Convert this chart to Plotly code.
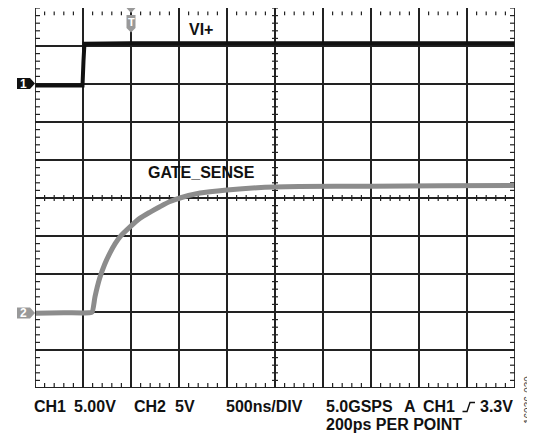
import plotly.graph_objects as go

# ---- data (screen divisions: x 0..10, y 0..10) ----
ch1_t = [0.0, 0.5, 0.99, 1.01, 1.03, 2.0, 4.0, 6.0, 8.0, 10.0]
ch1_v = [7.96, 7.97, 7.96, 8.6, 9.06, 9.07, 9.07, 9.06, 9.07, 9.07]

ch2_t = [0.0, 0.6, 1.13, 1.19, 1.25, 1.35, 1.45, 1.56, 1.67, 1.77, 1.98, 2.19,
         2.4, 2.6, 2.8, 3.02, 3.44, 4.0, 4.63, 5.5, 7.0, 8.5, 10.0]
ch2_v = [1.97, 1.98, 1.98, 2.0, 2.4, 2.9, 3.25, 3.55, 3.8, 3.98, 4.24, 4.47,
         4.63, 4.77, 4.9, 5.0, 5.13, 5.21, 5.27, 5.3, 5.31, 5.32, 5.33]

bottom_labels = [("CH1", 35), ("5.00V", 75), ("CH2", 135), ("5V", 176),
                 ("500ns/DIV", 227), ("5.0GSPS", 327), ("A", 405), ("CH1", 424),
                 ("3.3V", 481)]
second_line = "200ps PER POINT"

# The page body has an 8px margin, so the figure is drawn 8px smaller and
# all window-pixel positions are shifted by OFF.
OFF = 8
W, H = 535 - OFF, 434 - OFF
PL, PT, PR, PB = 35, 8, 515, 388          # plot area in window pixels
L, T = PL - OFF, PT - OFF
R, B = W - (PR - OFF), H - (PB - OFF)
PW, PH = PR - PL, PB - PT


def px(x):
    return (x - PL) / PW


def py(y):
    return (PB - y) / PH


FONT = "Liberation Sans, Arial, sans-serif"
GRAY = "#8c8c8c"

fig = go.Figure()

# tick marks built as line segments
tx, ty = [], []
dx = 5 / PW * 10   # 5px in x-div
dy = 5 / PH * 10   # 5px in y-div
for i in range(51):
    x = i * 0.2
    tx += [x, x, None]; ty += [0, dy, None]
    tx += [x, x, None]; ty += [10 - 0.09, 10 - 0.19, None]
    tx += [x, x, None]; ty += [5 - 0.6 * dy, 5 + 0.6 * dy, None]
    y = i * 0.2
    tx += [0, dx, None]; ty += [y, y, None]
    tx += [10, 10 - dx, None]; ty += [y, y, None]
    tx += [5 - 0.6 * dx, 5 + 0.6 * dx, None]; ty += [y, y, None]
fig.add_trace(go.Scatter(x=tx, y=ty, mode="lines", line=dict(color="#222", width=1.2),
                         hoverinfo="skip"))

fig.add_trace(go.Scatter(x=ch2_t, y=ch2_v, mode="lines",
                         line=dict(color=GRAY, width=5, shape="spline", smoothing=0.6)))
fig.add_trace(go.Scatter(x=ch1_t, y=ch1_v, mode="lines",
                         line=dict(color="#111", width=4)))

shapes = []
for (x0, y0, x1, y1) in [(0, 0, 0, 10), (10, 0, 10, 10), (0, 0, 10, 0)]:
    shapes.append(dict(type="line", xref="x", yref="y", x0=x0, y0=y0, x1=x1, y1=y1,
                       line=dict(color="#222", width=1.8)))


def pts_str(pts):
    return "M " + " L ".join(f"{px(a):.5f},{py(b):.5f}" for a, b in pts)


shapes.append(dict(type="path", xref="paper", yref="paper",
                   path=pts_str([(17, 78), (30, 78), (35, 83.5), (30, 89), (17, 89)]) + " Z",
                   fillcolor="#111", line=dict(width=0)))
shapes.append(dict(type="path", xref="paper", yref="paper",
                   path=pts_str([(17, 307.5), (30, 307.5), (35, 313), (30, 318.5), (17, 318.5)]) + " Z",
                   fillcolor="#999", line=dict(width=0)))
shapes.append(dict(type="path", xref="paper", yref="paper",
                   path=pts_str([(126.5, 8), (135.5, 8), (131, 13)]) + " Z",
                   fillcolor="#999", line=dict(width=0)))
shapes.append(dict(type="path", xref="paper", yref="paper",
                   path=pts_str([(126.5, 15), (135.5, 15), (135.5, 28), (131, 32.5), (126.5, 28)]) + " Z",
                   fillcolor="#999", line=dict(width=0)))
shapes.append(dict(type="path", xref="paper", yref="paper",
                   path=pts_str([(462.5, 411.5), (467, 411.5), (470, 402.5), (475, 402.5)]),
                   line=dict(color="#111", width=1.4)))

ann = []


def add_text(text, x, y, size=16, bold=True, color="#111", xanchor="left", angle=0):
    ann.append(dict(text=f"<b>{text}</b>" if bold else text, xref="paper", yref="paper",
                    x=px(x), y=py(y), xanchor=xanchor, yanchor="middle", showarrow=False,
                    font=dict(family=FONT, size=size, color=color), textangle=angle,
                    borderpad=0, borderwidth=0))


add_text("VI+", 201, 30, xanchor="center")
add_text("GATE_SENSE", 201.5, 172.5, xanchor="center")
for t, x in bottom_labels:
    add_text(t, x - 1, 406.5)
add_text(second_line, 326, 424.5)
add_text("1", 23.5, 83.5, size=12, color="white", xanchor="center")
add_text("2", 23.5, 313, size=12, color="white", xanchor="center")
add_text("T", 131, 21.5, size=11, color="white", xanchor="center")
add_text("16036-030", 528, 400, size=10, bold=False, color="#444", xanchor="center", angle=-90)

axis_common = dict(range=[0, 10], tickvals=list(range(1, 10)), showticklabels=False,
                   showgrid=True, gridcolor="#222", gridwidth=1.6, zeroline=False,
                   showline=False, ticks="", fixedrange=True)
fig.update_layout(width=W, height=H, margin=dict(l=L, r=R, t=T, b=B, pad=0),
                  plot_bgcolor="white", paper_bgcolor="white", showlegend=False,
                  xaxis=axis_common, yaxis=axis_common, shapes=shapes, annotations=ann)

fig.write_html("out.html")
